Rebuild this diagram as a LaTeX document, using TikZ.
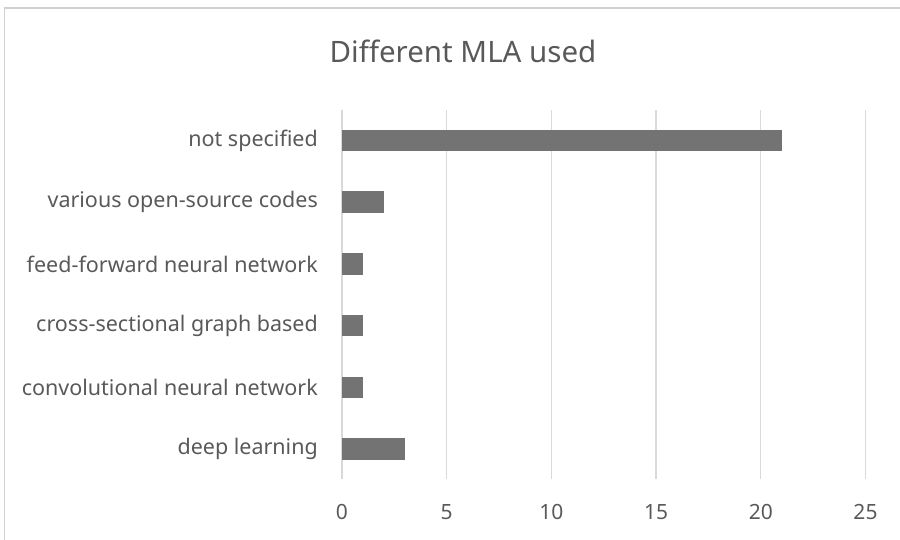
\documentclass[tikz,border=0pt]{standalone}
\usepackage{fontspec}
\setmainfont{Noto Sans}
\definecolor{gridgray}{HTML}{D9D9D9}
\definecolor{framegray}{HTML}{D0D0D0}
\definecolor{bargray}{HTML}{737373}
\definecolor{textgray}{HTML}{595959}
\begin{document}
\begin{tikzpicture}[x=1pt,y=-1pt,
  gridline/.style={draw=gridgray,line width=1.3pt},
  bar/.style={fill=bargray,draw=none},
  catlabel/.style={anchor=east,text=textgray,font=\fontsize{21.5}{24}\selectfont,inner sep=0pt},
  ticklabel/.style={anchor=center,text=textgray,font=\fontsize{21}{24}\selectfont,inner sep=0pt},
  charttitle/.style={anchor=center,text=textgray,font=\fontsize{29.5}{34}\selectfont,inner sep=0pt}]
  \useasboundingbox (0,0) rectangle (900,540);
  \clip (0,0) rectangle (900,540);
  % chart frame
  \draw[framegray,line width=1.5pt] (4.5,8) rectangle (906,548);
  % title
  \node[charttitle] (title) at (463,51) {Different MLA used};
  % vertical gridlines, 20.94 px per unit
  \foreach \v in {0,5,10,15,20,25}{
    \draw[gridline] ({342+20.94*\v},110) -- ({342+20.94*\v},479);
    \node[ticklabel] (tick\v) at ({342+20.94*\v},512) {\v};
  }
  % bars and category labels
  \foreach \val/\yc/\lab [count=\i] in {
    21/140.5/not specified,
    2/202.2/various open-source codes,
    1/263.9/feed-forward neural network,
    1/325.6/cross-sectional graph based,
    1/387.3/convolutional neural network,
    3/449/deep learning}{
    \fill[bar] (342,\yc-10.7) rectangle ({342+20.94*\val},\yc+10.7);
    \node[catlabel] (cat\i) at (318,\yc) {\lab};
  }
\end{tikzpicture}
\end{document}
